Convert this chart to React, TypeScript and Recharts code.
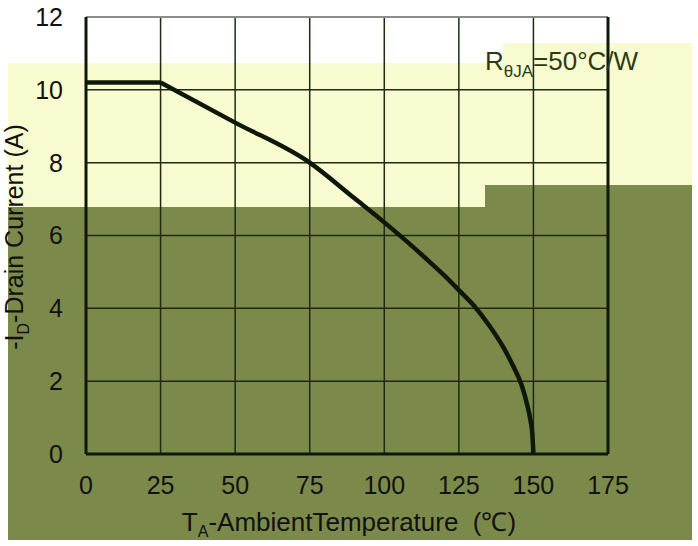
import {
  LineChart,
  Line,
  XAxis,
  YAxis,
  CartesianGrid,
  ReferenceLine,
} from "recharts";

// derating curve
const temperature = [0, 25, 50, 75, 90, 100, 110, 115, 120, 125, 130, 135, 140, 143, 146, 148, 149, 149.6, 150];
const drainCurrent = [10.2, 10.2, 9.1, 8.0, 7.02, 6.36, 5.66, 5.29, 4.91, 4.5, 4.08, 3.55, 2.92, 2.45, 1.9, 1.32, 0.93, 0.58, 0];

// current is flat up to this temperature, derated above it
const KNEE = 25;

const xTicks = [0, 25, 50, 75, 100, 125, 150, 175];
const yTicks = [0, 2, 4, 6, 8, 10, 12];

const curve = temperature.map((t, i) => ({
  t,
  flat: t <= KNEE ? drainCurrent[i] : null,
  derated: t >= KNEE ? drainCurrent[i] : null,
}));

const FONT = '"Liberation Sans", Arial, sans-serif';
const INK = "#0f1808";
const GRID = "#1f2a12";
const OLIVE = "#7b8a4a";
const CREAM = "#f8fbcf";

export default function App() {
  return (
    <div
      style={{
        position: "absolute",
        left: 0,
        top: 0,
        width: 698,
        height: 546,
        background: "#fff",
        fontFamily: FONT,
        overflow: "hidden",
      }}
    >
      {/* background panels */}
      <div
        style={{
          position: "absolute",
          inset: 0,
          background: CREAM,
          clipPath:
            "polygon(8px 63px, 503px 63px, 503px 43px, 692px 43px, 692px 185px, 485px 185px, 485px 207px, 8px 207px)",
        }}
      />
      <div
        style={{
          position: "absolute",
          inset: 0,
          background: OLIVE,
          clipPath:
            "polygon(8px 207px, 485px 207px, 485px 185px, 692px 185px, 692px 540px, 8px 540px)",
        }}
      />

      <div style={{ position: "absolute", left: 0, top: 0 }}>
        <LineChart
          width={698}
          height={546}
          data={curve}
          margin={{ top: 17, right: 90, bottom: 62, left: 26 }}
        >
          <CartesianGrid stroke={GRID} strokeWidth={1.5} />
          <XAxis
            dataKey="t"
            type="number"
            domain={[0, 175]}
            ticks={xTicks}
            height={30}
            tickLine={false}
            tickSize={6}
            tickMargin={16}
            axisLine={{ stroke: INK, strokeWidth: 3 }}
            tick={{ fill: "#111", fontSize: 25, fontFamily: FONT }}
          />
          <YAxis
            type="number"
            domain={[0, 12]}
            ticks={yTicks}
            width={60}
            tickLine={false}
            tickSize={6}
            tickMargin={17}
            axisLine={{ stroke: INK, strokeWidth: 3 }}
            tick={{ fill: "#111", fontSize: 25, fontFamily: FONT }}
          />
          <ReferenceLine y={12} stroke="#8c8c8c" strokeWidth={2} />
          <ReferenceLine x={175} stroke={INK} strokeWidth={3} />
          <Line
            dataKey="flat"
            type="linear"
            stroke={INK}
            strokeWidth={4.5}
            dot={false}
            activeDot={false}
            isAnimationActive={false}
          />
          <Line
            dataKey="derated"
            type="monotone"
            stroke={INK}
            strokeWidth={4.5}
            dot={false}
            activeDot={false}
            isAnimationActive={false}
          />
        </LineChart>
      </div>

      {/* thermal resistance note */}
      <div
        style={{
          position: "absolute",
          left: 485,
          top: 49,
          fontSize: 26,
          lineHeight: "25px",
          color: "#2e3a12",
          whiteSpace: "nowrap",
        }}
      >
        R<span style={{ fontSize: 17, position: "relative", top: 7 }}>θJA</span>=50°C/W
      </div>

      {/* axis titles */}
      <div
        style={{
          position: "absolute",
          left: 99,
          top: 510,
          width: 500,
          textAlign: "center",
          fontSize: 26,
          lineHeight: "25px",
          color: "#111",
          whiteSpace: "nowrap",
        }}
      >
        T<span style={{ fontSize: 16, position: "relative", top: 6 }}>A</span>
        -AmbientTemperature&nbsp; (℃)
      </div>
      <div
        style={{
          position: "absolute",
          left: 16 - 160,
          top: 235 - 12.5,
          width: 320,
          textAlign: "center",
          fontSize: 25,
          lineHeight: "25px",
          color: "#111",
          whiteSpace: "nowrap",
          transform: "rotate(-90deg)",
        }}
      >
        -I<span style={{ fontSize: 16, position: "relative", top: 6 }}>D</span>
        -Drain Current (A)
      </div>
    </div>
  );
}
